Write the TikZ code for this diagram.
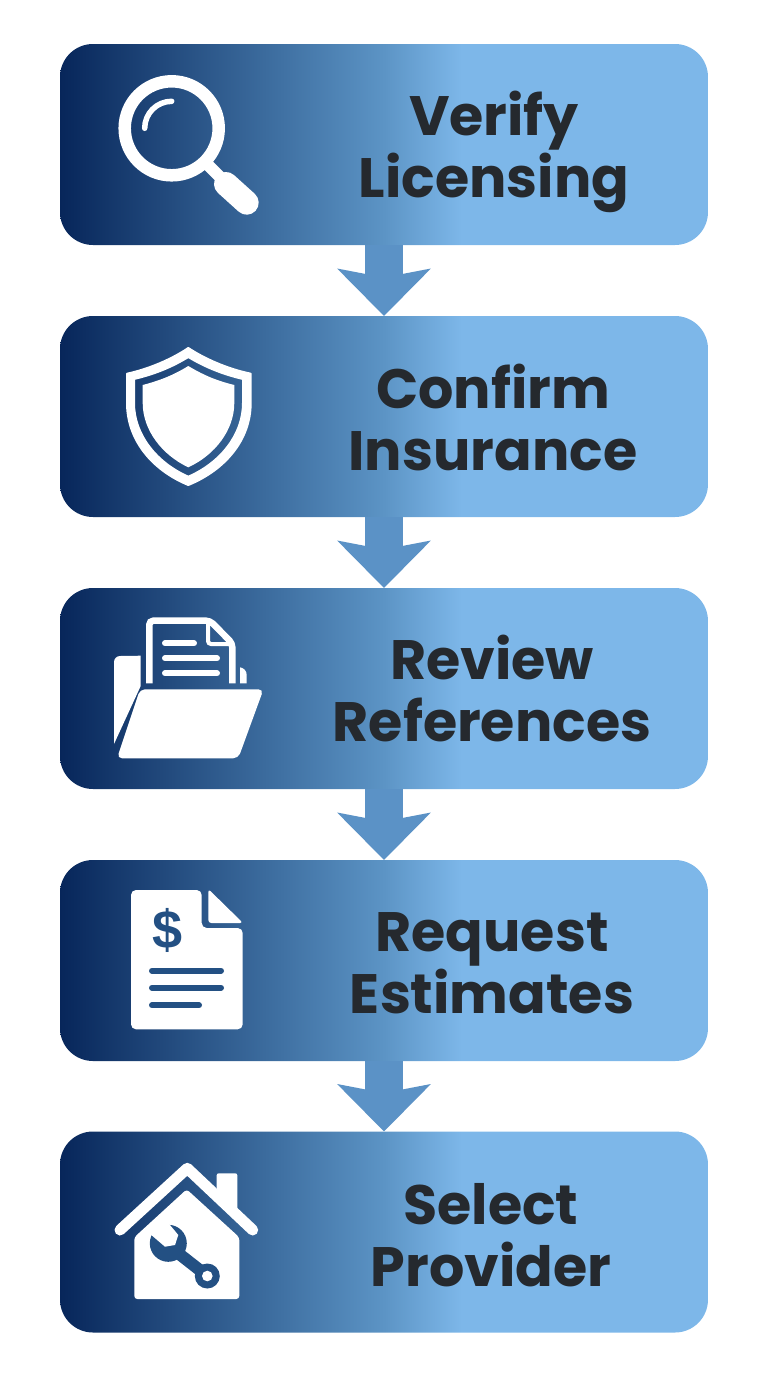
\documentclass[tikz,border=0pt]{standalone}
\usepackage{fontspec}
\setmainfont{Poppins}
\newfontfamily\dollarfont{Liberation Sans}
\usetikzlibrary{arrows.meta}
\definecolor{boxdark}{HTML}{07265A}
\definecolor{boxmid}{HTML}{3C6C9E}
\definecolor{boxmidb}{HTML}{5C94C5}
\definecolor{boxlight}{HTML}{7DB7E9}
\definecolor{arrowblue}{HTML}{5B92C6}
\definecolor{textdark}{HTML}{25292E}
\definecolor{holeblue}{HTML}{235083}
\pgfdeclarehorizontalshading{boxfade}{100bp}{color(0bp)=(boxdark); color(25bp)=(boxdark); color(41bp)=(boxmid); color(50bp)=(boxmidb); color(56bp)=(boxlight); color(100bp)=(boxlight)}
\tikzset{
    stepbox/.style = {rectangle, rounded corners=33pt, minimum width=648pt, minimum height=201pt, inner sep=0, outer sep=0, shade, shading=boxfade},
    steplabel/.style = {align=center, inner sep=0, text=textdark, font=\fontsize{55.5}{62}\selectfont\bfseries},
    steparrow/.style = {-{Stealth[length=47pt,width=92pt,inset=8.5pt]}, line width=38pt, arrowblue},
    iconline/.style = {white, line width=6pt, line cap=round},
    iconfill/.style = {fill=white, even odd rule},
    iconhole/.style = {holeblue}
}
\begin{document}
\begin{tikzpicture}[x=1pt,y=-1pt]
\useasboundingbox (0,0) rectangle (768,1376);

\node[stepbox] at (384,144.5) (verify) {};
\node[stepbox] at (384,416.5) (confirm) {};
\node[stepbox] at (384,688.5) (review) {};
\node[stepbox] at (384,960.5) (request) {};
\node[stepbox] at (384,1232) (select) {};

\node[steplabel] at (494,152) (verifyl) {Verify\\Licensing};
\node[steplabel] at (493,417) (confirml) {Confirm\\Insurance};
\node[steplabel] at (492,688) (reviewl) {Review\\References};
\node[steplabel] at (492,963) (requestl) {Request\\Estimates};
\node[steplabel] at (491,1235) (selectl) {Select\\Provider};

\draw[steparrow] (verify.south) -- (confirm.north);
\draw[steparrow] (confirm.south) -- (review.north);
\draw[steparrow] (review.south) -- (request.north);
\draw[steparrow] (request.south) -- (select.north);

% magnifier
\draw[white, line width=12.5pt] (171.7,128.3) circle (47);
\draw[white, line width=5.5pt, line cap=round] (144.7,128.3) arc[start angle=180, end angle=270, radius=27];
\draw[white, line width=12pt] (207,164) -- (226,183);
\draw[white, line width=24pt, line cap=round] (226,184) -- (246.7,202.7);

% shield
\path[iconfill, draw=white, line width=2pt, line join=round] (188.3,348) .. controls (205,359) and (228,369) .. (250.7,373.7) -- (250.7,403) .. controls (250.7,440) and (225,470) .. (188.3,485) .. controls (152,470) and (127,440) .. (127,403) -- (127,373.7) .. controls (149,369) and (172,359) .. (188.3,348) -- cycle
  (188.3,357) .. controls (172,367) and (155,374) .. (134,379) -- (134,403) .. controls (134,435) and (157,463) .. (188.3,476.7) .. controls (220,463) and (243,435) .. (243,403) -- (243,379) .. controls (222,374) and (205,367) .. (188.3,357) -- cycle;
\fill[white] (188.3,366) .. controls (205,376) and (218,381) .. (234.3,385) -- (234.3,403) .. controls (234.3,430) and (215,455) .. (188.3,467.3) .. controls (162,455) and (142.7,430) .. (142.7,403) -- (142.7,385) .. controls (158,381) and (172,376) .. (188.3,366) -- cycle;

% folder
\fill[white] (140.7,655.7) -- (140.7,686) -- (114,744) -- (114,662) arc[start angle=180, end angle=270, radius=6] -- cycle;
\fill[white] (240,667.3) .. controls (244,668) and (246.7,671) .. (246.7,675) -- (246.7,683.3) -- (240,683.3) -- cycle;
\draw[white, line width=6.5pt, rounded corners=4pt] (149.3,683.3) -- (149.3,620.7) -- (210,620.7) -- (232.3,643.3) -- (232.3,683.3);
\draw[white, line width=4pt, rounded corners=3pt] (208,621) -- (208,644) -- (232,644);
\draw[iconline] (165,643.3) -- (194,643.3);
\draw[iconline] (165,658.3) -- (217,658.3);
\draw[iconline] (165,673.3) -- (217,673.3);
\fill[white, rounded corners=5pt] (140,689.3) -- (263.5,689.3) -- (238.3,758.3) -- (117,758.3) -- cycle;

% invoice
\path[iconfill, rounded corners=5pt] (131,890) -- (201.7,890) -- (201.7,928) -- (242.7,928) -- (242.7,1029.3) -- (131,1029.3) -- cycle;
\fill[white, rounded corners=3pt] (208.3,889) -- (243,923) -- (208.3,923) -- cycle;
\node[iconhole, font=\dollarfont\fontsize{54}{54}\selectfont\bfseries, inner sep=0] at (167.7,930) (dollar) {\$};
\draw[iconhole, line width=6pt, line cap=round] (152,970.7) -- (221,970.7);
\draw[iconhole, line width=6pt, line cap=round] (152,987.7) -- (221,987.7);
\draw[iconhole, line width=6pt, line cap=round] (152,1005.3) -- (199,1005.3);

% house
\fill[white, rounded corners=2pt] (216.7,1190) -- (216.7,1173.3) -- (237.3,1173.3) -- (237.3,1212) -- cycle;
\draw[white, line width=11pt, line cap=round, line join=round] (120,1230) -- (187.3,1168.3) -- (252.7,1230);
\fill[white, rounded corners=3pt] (186.7,1189.3) -- (239.3,1237.3) -- (239.3,1299) -- (134.3,1299) -- (134.3,1237.3) -- cycle;
\fill[iconhole] (168.3,1243.3) circle (18.5);
\draw[iconhole, line width=12pt] (178,1253) -- (207.3,1276);
\fill[iconhole] (207.3,1276) circle (12.5);
\fill[white] (207.3,1276) circle (5.3);
\fill[white] (165,1219) -- (178.3,1235) -- (175,1245) -- (165,1246.7) -- (149,1233) -- cycle;

\end{tikzpicture}
\end{document}
